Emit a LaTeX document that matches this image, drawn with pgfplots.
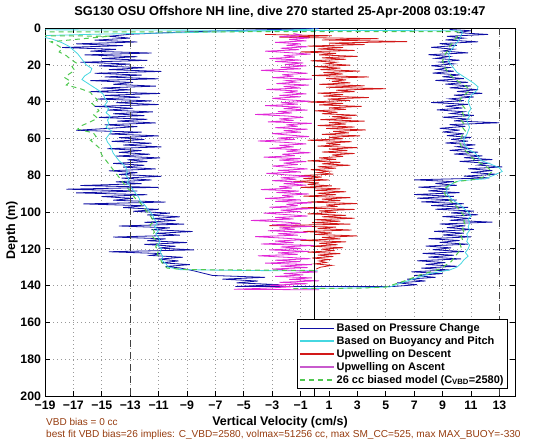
\documentclass[border=0pt]{standalone}
\usepackage{pgfplots}
\pgfplotsset{compat=1.18}
\usepackage{fontspec}
\setmainfont{Liberation Sans}
\definecolor{cBlue}{RGB}{15,15,165}
\definecolor{cCyan}{RGB}{70,215,225}
\definecolor{cRed}{RGB}{210,25,25}
\definecolor{cMag}{RGB}{225,40,215}
\definecolor{cMagL}{RGB}{200,90,205}
\definecolor{cGreen}{RGB}{80,200,80}
\definecolor{cBrown}{RGB}{150,60,15}
\begin{document}
\begin{tikzpicture}
\useasboundingbox (0,0) rectangle (560pt,442pt);
\begin{axis}[
  at={(45pt,46pt)}, anchor=south west,
  scale only axis, width=470pt, height=368pt,
  xmin=-19, xmax=14.1, ymin=0, ymax=200, y dir=reverse,
  xtick={-19,-17,...,13},
  xticklabels={−19,−17,−15,−13,−11,−9,−7,−5,−3,−1,1,3,5,7,9,11,13},
  ytick={0,20,...,200},
  yticklabels={0,20,40,60,80,100,120,140,160,180,200},
  ticklabel style={font=\fontsize{12.3}{14}\selectfont\bfseries},
  xticklabel style={yshift=-1.5pt},
  yticklabel style={xshift=-0.5pt},
  tick align=inside, major tick length=5pt,
  tick style={black, line width=0.8pt},
  axis line style={line width=1pt},
  grid=major, major grid style={dash pattern=on 1pt off 3pt, gray!80, line width=0.6pt},
  clip=true,
  legend style={at={(0.985,0.019)}, anchor=south east, draw=black, line width=0.8pt, fill=white,
    font=\fontsize{11}{13}\selectfont\bfseries, inner sep=2pt, row sep=-0.6pt,
    legend cell align=left},
  legend image code/.code={\draw[#1, line width=1.7pt] (0pt,0pt) -- (34pt,0pt);},
]
% Pressure-change based (descent + bottom + ascent)
\addplot[cBlue, line width=0.8pt] coordinates {
(0.3,0.2) (-1.5,0.6) (-4,1.0) (-7,1.6) (-10,2.4) (-13,3.4) (-14.5,4.5) (-13,5.5) (-15.5,6.6) (-12.5,7.6)
(-16.8,8.6) (-13.5,9.6) (-17.8,10.6) (-14,11.6) (-15.8,12.6) (-11.5,13.6) (-16.2,14.6) (-12.5,15.6) (-15,16.6) (-11.8,17.6)
(-16.5,18.6) (-13,19.6) (-15.2,20.6) (-12,21.6) (-14.5,22.6) (-10.8,23.6) (-15.5,24.6) (-12.2,25.6) (-14.8,26.6) (-11,27.6)
(-15.8,28.6) (-12.8,29.6) (-14.2,30.6) (-11.2,31.6) (-15,32.6) (-13,33.6) (-15.8,34.6) (-10.9,35.6) (-14.8,36.6) (-12.3,37.6)
(-15.3,38.6) (-11.5,39.6) (-14,40.6) (-11,41.6) (-15.5,42.6) (-12.8,43.6) (-14.6,44.6) (-11.4,45.6) (-14.2,46.6) (-12,47.6)
(-15.2,48.6) (-11.8,49.6) (-13.9,50.6) (-11.2,51.6) (-14.8,52.6) (-12.5,53.6) (-16.8,55.6) (-12.2,56.6) (-14.5,57.6) (-11,58.6)
(-13.8,59.6) (-12,60.6) (-14.3,61.6) (-11.5,62.6) (-13.5,63.6) (-10.8,64.6) (-14.6,65.6) (-12.2,66.6) (-13.8,67.6) (-11.6,68.6)
(-14,69.6) (-10.9,70.6) (-13.2,71.6) (-11.8,72.6) (-14.2,73.6) (-12,74.6) (-13.5,75.6) (-11.2,76.6) (-14.5,77.6) (-12.5,78.6)
(-13.8,79.6) (-10.8,80.6) (-13.6,81.6) (-11.5,82.6) (-14,83.6) (-12.2,84.6) (-16.5,85.6) (-11,86.6) (-17.5,87.6) (-12.5,88.6)
(-16.8,89.6) (-11.8,90.6) (-15,91.6) (-12.8,92.6) (-14.2,93.6) (-10.5,94.6) (-16.3,95.6) (-12,96.6) (-13.5,97.6) (-11,98.6)
(-12.8,99.6) (-10.2,100.6) (-11.8,101.6) (-9.5,102.6) (-11.5,103.6) (-9.8,104.6) (-12,105.6) (-9.2,106.6) (-13.8,107.6) (-10.2,108.6)
(-11.5,109.6) (-8.6,110.6) (-11.2,111.6) (-9.5,112.6) (-14.2,113.6) (-10.5,114.6) (-11.8,115.6) (-9,116.6) (-12,117.6) (-9.8,118.6)
(-11,119.6) (-8.5,120.6) (-14.5,121.6) (-10.8,122.6) (-11.6,123.6) (-9.3,124.6) (-11,125.6) (-9.6,126.6) (-10.8,127.6) (-8.8,128.6)
(-10.5,129.6) (-9.5,130.4) (-8.5,132) (-7.2,134.5) (-3.5,135.5) (-6.5,136.5) (-4,137.5) (-5.5,138.5) (-2.5,139.5) (-5.6,140.5)
(5.5,140.5) (7.2,139.5) (5.8,138.5) (7.8,137.5) (6.5,136.5) (8.5,135.5) (7,134.5) (9,133.5) (6.8,132.5) (9.5,131.5)
(7.5,130.5) (10,129.5) (7.8,128.5) (9.2,127.5) (7.2,126.5) (10.3,125.5) (8,124.5) (9.8,123.5) (7.6,122.5) (10.5,121.5)
(8.3,120.5) (9.6,119.5) (7.8,118.5) (10.8,117.5) (8.8,116.5) (10.2,115.5) (8,114.5) (11,113.5) (9,112.5) (10.5,111.5)
(8.4,110.5) (11.2,109.5) (9.3,108.5) (10.6,107.5) (8.8,106.5) (12.5,105.5) (9.5,104.5) (11,103.5) (9,102.5) (11.5,101.5)
(9.6,100.5) (11.2,99.5) (8.5,98.5) (10.8,97.5) (8.2,96.5) (10.5,95.5) (7.5,94.5) (10,93.5) (7.2,92.5) (9.8,91.5)
(7,90.5) (10.2,89.5) (8,88.5) (9.5,87.5) (7.3,86.5) (10,85.5) (8.5,84.5) (9.8,83.5) (7,82.5) (12.3,81.5)
(10.5,80.5) (12.8,79.5) (11,78.5) (12.5,77.5) (10.8,76.5) (13.2,75.5) (11.5,74.5) (12.2,73.5) (10.2,72.5) (12.5,71.5)
(10.5,70.5) (11.8,69.5) (9.8,68.5) (11.5,67.5) (9.5,66.5) (11,65.5) (10,64.5) (11.3,63.5) (9.2,62.5) (10.8,61.5)
(9.6,60.5) (11,59.5) (9.3,58.5) (10.5,57.5) (9,56.5) (10.2,55.5) (8.8,54.5) (10.6,53.5) (9.5,52.5) (13,51.5)
(9.8,50.5) (10.8,49.5) (9,48.5) (11.2,47.5) (9.6,46.5) (10.5,45.5) (8.6,44.5) (10.4,43.5) (9.2,42.5) (10.8,41.5)
(8.2,40.5) (10.5,39.5) (9.5,38.5) (11.2,37.5) (9.8,36.5) (11.8,35.5) (10,34.5) (11.5,33.5) (9.5,32.5) (11,31.5)
(9.2,30.5) (10.8,29.5) (8.5,28.5) (10.5,27.5) (9,26.5) (10.2,25.5) (8.3,24.5) (9.8,23.5) (8.6,22.5) (9.5,21.5)
(8.2,20.5) (9.8,19.5) (8.8,18.5) (10.2,17.5) (8.5,16.5) (9.5,15.5) (8,14.5) (10.8,13.5) (9,12.5) (9.8,11.5)
(8.2,10.5) (10,9.5) (8.8,8.5) (11.5,7.5) (9.2,6.5) (10.5,5.5) (9.3,4.5) (12.2,3.5) (10,2.5) (11,1.5) (9.5,0.8)
};
\addlegendentry{Based on Pressure Change}
% Buoyancy and pitch (descent)
\addplot[cCyan, line width=0.8pt, forget plot] coordinates {
(0.2,0.5) (-3,1.5) (-9,2.5) (-15,3.3) (-19.6,4.2) (-18.5,6) (-17.8,8) (-17.3,10) (-17,12) (-16.7,14)
(-16.5,16) (-16.3,18) (-16.1,20) (-15.7,22) (-15.8,24) (-16.2,26) (-16.4,28) (-16,30) (-15.6,32) (-15.2,34)
(-14.9,36) (-14.8,38) (-14.6,40) (-14.8,42) (-14.5,44) (-14.7,46) (-14.4,48) (-14.6,50) (-14.5,52) (-14.7,54)
(-14.3,56) (-14.5,58) (-14.7,60) (-14.6,62) (-14.4,64) (-14.3,66) (-14.2,68) (-14.0,70) (-13.8,72) (-13.5,74)
(-13.3,76) (-13.2,78) (-13.3,80) (-13.1,82) (-13.2,84) (-13.0,86) (-12.8,88) (-12.6,90) (-12.4,92) (-12.3,94)
(-12.0,96) (-11.8,98) (-11.6,100) (-11.4,102) (-11.3,104) (-11.1,106) (-11.3,108) (-11.0,110) (-11.2,112) (-11.0,114)
(-10.9,116) (-11.1,118) (-10.8,120) (-10.9,122) (-10.7,124) (-10.8,126) (-10.5,128) (-10.3,130) (-9.5,131.3) (-5,131.8) (0.2,132)
};
% Buoyancy and pitch (ascent)
\addplot[cCyan, line width=0.8pt] coordinates {
(-1,141.6) (3,141.3) (5.3,140.7) (6.7,137) (8.1,133.5) (9.5,131.5) (10,130) (10.3,128) (10.5,126) (10.8,124)
(10.6,122) (10.8,120) (10.9,118) (10.7,116) (10.8,114) (10.7,112) (10.9,110) (10.8,108) (10.9,106) (10.8,104)
(11,102) (10.8,100) (10.5,98) (10.2,96) (9.8,94) (9.5,92) (9.3,90) (9.3,88) (9.4,86) (9.8,84)
(10.2,83) (12,82) (12.6,80) (13.2,78) (13,76) (12.4,74) (11.7,72) (11.5,70) (11.3,68) (10.8,66)
(10.6,64) (10.5,62) (10.5,60) (10.7,58) (10.8,56) (10.9,54) (10.8,52) (10.7,50) (10.9,48) (10.8,46)
(11,44) (10.9,42) (10.8,40) (10.9,38) (11.1,36) (11.4,34) (11.5,32) (11.2,30) (10.8,28) (10.4,26)
(10,24) (9.8,22) (9.6,20) (9.4,18) (9.5,16) (9.4,14) (9.6,12) (9.8,10) (10,8) (10.2,6)
(10.3,4) (10.4,2.5) (10.3,1.5) (-30,0.8)
};
\addlegendentry{Based on Buoyancy and Pitch}
% Upwelling on descent
\addplot[cRed, line width=0.8pt] coordinates {
(-3.5,3.5) (1.2,4.2) (-2.5,5) (4.5,5.8) (0.5,6.5) (6.5,7.4) (1,8.2) (3.5,9) (-0.5,9.8) (2,10.6)
(0.2,11.4) (2.8,12.2) (-1,13) (1.5,13.8) (0.3,14.6) (3,15.4) (0.5,16.2) (2.2,17) (-0.3,17.8) (1.5,18.6)
(0.8,19.4) (2.5,20.2) (0,21) (1.8,21.8) (0.4,22.6) (3.2,23.4) (0.6,24.2) (2,25) (-0.2,25.8) (3.8,26.6)
(0.8,27.4) (2.2,28.2) (1.2,29) (2.5,29.8) (0.3,30.6) (3.5,31.4) (0.8,32.2) (5,33) (1.5,33.8) (2.8,34.6)
(0.2,35.4) (2,36.2) (0.6,37) (3.8,37.8) (0.9,38.6) (2.5,39.4) (-0.5,40.2) (2,41) (0.3,41.8) (3.3,42.6)
(1,43.4) (2.2,44.2) (0,45) (1.6,45.8) (0.5,46.6) (3,47.4) (1.2,48.2) (2.6,49) (0.4,49.8) (3.5,50.6)
(1,51.4) (2.2,52.2) (0.2,53) (2.8,53.8) (0.8,54.6) (3.6,55.4) (1.3,56.2) (2.4,57) (0.5,57.8) (3.2,58.6)
(1,59.4) (2,60.2) (-0.5,61) (2.6,61.8) (0.8,62.6) (1.8,63.4) (0.2,64.2) (3,65) (1,65.8) (2.3,66.6)
(0.5,67.4) (2.8,68.2) (1.2,69) (2,69.8) (0.3,70.6) (1.5,71.4) (-0.5,72.2) (1.8,73) (0.5,73.8) (2.5,74.6)
(0.2,75.4) (1.5,76.2) (-0.3,77) (1,77.8) (0.2,78.6) (1.3,79.4) (-1,80.2) (0.5,81) (-0.8,81.8) (1,82.6)
(-1.5,83.4) (0.3,84.2) (-0.5,85) (1.2,85.8) (-1,86.6) (1.8,87.4) (0,88.2) (2.2,89) (0.2,89.8) (1.5,90.6)
(-0.8,91.4) (2.5,92.2) (0.5,93) (1.8,93.8) (-0.5,94.6) (3,95.4) (0.8,96.2) (1.6,97) (-1,97.8) (2.8,98.6)
(0.3,99.4) (1.5,100.2) (-0.5,101) (2.2,101.8) (0.5,102.6) (2.8,103.4) (0,104.2) (1.8,105) (-0.2,105.8) (2.5,106.6)
(-3.2,107.4) (1.5,108.2) (0.2,109) (2.6,109.8) (-0.8,110.6) (1.2,111.4) (0,112.2) (3,113) (0.5,113.8) (1.8,114.6)
(-1,115.4) (2.2,116.2) (0.3,117) (1.6,117.8) (-0.3,118.6) (2,119.4) (0.5,120.2) (1.4,121) (-0.5,121.8) (1.8,122.6)
(0.2,123.4) (1.3,124.2) (-0.2,125) (1,125.8) (0.3,126.6) (0.8,127.4) (0,128.2) (1.2,129) (0.4,130) (0.1,131)
};
\addlegendentry{Upwelling on Descent}
% Upwelling on ascent
\addplot[cMag, line width=0.8pt, legend image post style={cMagL}] coordinates {
(0.3,142.3) (-5.7,142) (-3.5,141.4) (-1.5,140.6) (-3.2,139.8) (-0.5,139) (-2.5,138.2) (0.3,137.4) (-1.8,136.6) (-0.2,135.8)
(-2.8,135) (-0.8,134.2) (-2.2,133.4) (0.2,132.6) (-1.5,131.8) (-3,131) (-0.5,130.2) (-2.4,129.4) (-0.2,128.6) (-3.5,127.8)
(-1,127) (-2.8,126.2) (-0.3,125.4) (-2,124.6) (-4,123.8) (-1.2,123) (-2.6,122.2) (-0.4,121.4) (-3.2,120.6) (-1,119.8)
(-2.4,119) (0,118.2) (-3.8,117.4) (-1.5,116.6) (-2.8,115.8) (-0.6,115) (-2.2,114.2) (-4.2,113.4) (-1.2,112.6) (-2.6,111.8)
(-0.5,111) (-3.3,110.2) (-1.4,109.4) (-2.5,108.6) (-0.2,107.8) (-3,107) (-1,106.2) (-2.2,105.4) (-4.5,104.6) (-1.5,103.8)
(-2.8,103) (-0.5,102.2) (-2,101.4) (-3.6,100.6) (-1,99.8) (-2.4,99) (-0.3,98.2) (-3.2,97.4) (-1.2,96.6) (-2,95.8)
(-0.2,95) (-2.8,94.2) (-1,93.4) (-3.5,92.6) (-1.5,91.8) (-2.3,91) (-0.4,90.2) (-2.7,89.4) (-1.1,88.6) (-3.8,87.8)
(-1.6,87) (-2.5,86.2) (-0.6,85.4) (-2.2,84.6) (-0.8,83.8) (-3,83) (-1.3,82.2) (-2.4,81.4) (-0.3,80.6) (-2,79.8)
(-3.4,79) (-1,78.2) (-2.6,77.4) (-0.5,76.6) (-1.8,75.8) (-3,75) (-1.2,74.2) (-2.2,73.4) (-0.6,72.6) (-2.5,71.8)
(-1,71) (-3.6,70.2) (-1.4,69.4) (-2.3,68.6) (-0.3,67.8) (-2,67) (-1,66.2) (-3.2,65.4) (-1.5,64.6) (-2.5,63.8)
(-0.6,63) (-2,62.2) (-4,61.4) (-1.4,60.6) (-2.6,59.8) (-0.4,59) (-1.8,58.2) (-3,57.4) (-1,56.6) (-2.2,55.8)
(-0.5,55) (-2.8,54.2) (-1.2,53.4) (-2,52.6) (-0.2,51.8) (-3.3,51) (-1.5,50.2) (-2.5,49.4) (-0.8,48.6) (-2,47.8)
(-4.2,47) (-1.6,46.2) (-2.6,45.4) (-0.5,44.6) (-2.2,43.8) (-1,43) (-3.5,42.2) (-1.2,41.4) (-2.4,40.6) (-0.3,39.8)
(-2,39) (-3,38.2) (-1,37.4) (-2.5,36.6) (-0.6,35.8) (-2,35) (-1.2,34.2) (-3.4,33.4) (-1,32.6) (-2.2,31.8)
(-0.4,31) (-2.7,30.2) (-1.3,29.4) (-2,28.6) (-0.2,27.8) (-3,27) (-1.5,26.2) (-2.3,25.4) (-0.5,24.6) (-2,23.8)
(-3.8,23) (-1,22.2) (-2.4,21.4) (-0.6,20.6) (-2.1,19.8) (-0.8,19) (-2.8,18.2) (-1,17.4) (-3.2,16.6) (-1.4,15.8)
(-2.2,15) (-0.3,14.2) (-1.8,13.4) (-3.5,12.6) (-1.1,11.8) (-2.4,11) (-0.5,10.2) (-2,9.4) (-1,8.6) (-2.8,7.8)
(-0.6,7) (-1.8,6.2) (-0.4,5.4) (-2.5,4.6) (-1,3.8) (-1.5,3)
};
\addlegendentry{Upwelling on Ascent}
% Biased model (descent)
\addplot[cGreen, line width=1pt, dash pattern=on 5pt off 4pt, forget plot] coordinates {
(-30,3.9) (-14.4,4.4) (-18.6,7.5) (-18.2,9) (-17.8,11) (-18,13) (-17.5,15) (-17.2,17) (-16.8,19) (-17.1,21)
(-16.9,23) (-17.3,25) (-17.6,27) (-17.2,29) (-17.5,31) (-16.5,33) (-15.8,35) (-15.6,37) (-15.3,39) (-15.7,41)
(-15.4,43) (-15.2,45) (-15.6,47) (-15.3,49) (-15.8,51) (-16.4,53) (-16.7,55) (-15.6,57) (-15.4,59) (-15.8,61)
(-15.5,63) (-15.2,65) (-15.1,67) (-15.0,69) (-14.8,71) (-14.6,73) (-14.4,75) (-14.2,77) (-14,79) (-13.8,81)
(-13.6,83) (-13.4,85) (-13.2,87) (-12.9,89) (-12.8,91) (-12.6,93) (-12.3,95) (-12.1,97) (-11.9,99) (-11.7,101)
(-11.5,103) (-11.3,105) (-11.6,107) (-11.4,109) (-11.3,111) (-11.5,113) (-11.2,115) (-11.1,117) (-11.2,119) (-11,121)
(-11.1,123) (-10.9,125) (-10.8,127) (-10.6,129) (-10.4,130.5) (-9,131.3) (0,131.8)
};
% Biased model (ascent)
\addplot[cGreen, line width=1pt, dash pattern=on 5pt off 4pt] coordinates {
(-1.5,141.6) (3,141.4) (5,140.8) (6.3,137.5) (7.5,134) (8.8,131) (9.2,129) (9.6,127) (9.8,125) (10,123)
(10.2,121) (10.3,119) (10.2,117) (10.4,115) (10.3,113) (10.5,111) (10.4,109) (10.6,107) (10.5,105) (10.6,103)
(10.4,101) (10.2,99) (10,97) (9.7,95) (9.4,93) (9.2,91) (9.1,89) (9.2,87) (9.5,85) (10,83.5)
(11.5,82) (12.2,80) (12.5,78) (12.2,76) (11.8,74) (11.3,72) (11,70) (10.8,68) (10.5,66) (10.3,64)
(10.2,62) (10.3,60) (10.4,58) (10.6,56) (10.4,54) (10.5,52) (10.3,50) (10.5,48) (10.4,46) (10.6,44)
(10.4,42) (10.2,40) (10.3,38) (10.6,36) (10.9,34) (10.7,32) (10.3,30) (9.9,28) (9.6,26) (9.4,24)
(9.2,22) (9.1,20) (9,18) (9.1,16) (9.2,14) (9.4,12) (9.5,10) (9.7,8) (9.9,6) (10.1,4)
(10.2,2.6) (10,2) (-30,2.1)
};
\addlegendentry{26 cc biased model (C\textsubscript{VBD}=2580)}
% reference lines
\addplot[black, line width=0.8pt, forget plot] coordinates {(0,0) (0,200)};
\addplot[black!75, line width=1pt, dash pattern=on 7pt off 5pt, forget plot] coordinates {(-13,0) (-13,200)};
\addplot[black!75, line width=1pt, dash pattern=on 7pt off 5pt, forget plot] coordinates {(13,0) (13,200)};
\end{axis}
\node[font=\fontsize{12.8}{14}\selectfont\bfseries] at (280pt,430pt) {SG130 OSU Offshore NH line, dive 270 started 25-Apr-2008 03:19:47};
\node[font=\fontsize{12.5}{14}\selectfont\bfseries] at (280pt,20pt) {Vertical Velocity (cm/s)};
\node[font=\fontsize{12.5}{14}\selectfont\bfseries, rotate=90] at (12pt,212pt) {Depth (m)};
\node[font=\fontsize{10}{12}\selectfont, text=cBrown, anchor=west, inner sep=0pt] at (46pt,20pt) {VBD bias = 0 cc};
\node[font=\fontsize{10.1}{12}\selectfont, text=cBrown, anchor=west, inner sep=0pt] at (46pt,7pt) {best fit VBD bias=26 implies: C\_VBD=2580, volmax=51256 cc, max SM\_CC=525, max MAX\_BUOY=-330};
\end{tikzpicture}
\end{document}
